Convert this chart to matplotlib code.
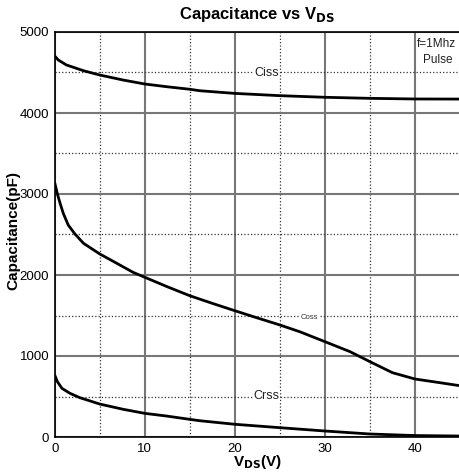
import matplotlib
matplotlib.use('Agg')
import matplotlib.pyplot as plt
from matplotlib.ticker import MultipleLocator

plt.rcParams['font.family'] = ['Liberation Sans', 'DejaVu Sans']

# Datos (pF frente a V)
ciss_v = [0, 0.4, 1.3, 3.2, 5, 7.6, 10, 12.4, 15, 16.1, 20, 25, 30, 35, 40, 45]
ciss = [4704, 4654, 4593, 4522, 4469, 4407, 4358, 4325, 4293, 4275, 4242, 4214, 4194, 4181, 4173, 4172]

coss_v = [0, 0.3, 0.6, 0.95, 1.5, 2.25, 3.2, 5, 6.9, 8.7, 10, 12.5, 15, 17.5, 20, 22.5, 25,
          27.2, 30, 32.8, 35, 37.5, 40, 42.8, 45]
coss = [3140, 3000, 2885, 2762, 2617, 2506, 2391, 2260, 2144, 2033, 1972, 1855, 1744, 1650, 1559,
        1470, 1383, 1300, 1177, 1053, 930, 794, 716, 670, 633]

crss_v = [0, 0.3, 0.8, 1.7, 2.8, 5, 7.6, 10, 12.4, 15, 16.1, 20, 25, 30, 35, 40, 45]
crss = [765, 683, 601, 539, 485, 407, 342, 292, 259, 218, 201, 157, 115, 74, 37, 18, 12]

fig = plt.figure(figsize=(4.59, 4.73), dpi=100)
ax = fig.add_axes([54.7 / 459, 36 / 473, 405.3 / 459, 405 / 473])

for vs, serie in ((ciss_v, ciss), (coss_v, coss), (crss_v, crss)):
    ax.plot(vs, serie, color='black', linewidth=2, zorder=3, solid_capstyle='butt')

ax.set_xlim(0, 45)
ax.set_ylim(0, 5000)
ax.xaxis.set_major_locator(MultipleLocator(10))
ax.xaxis.set_minor_locator(MultipleLocator(5))
ax.yaxis.set_major_locator(MultipleLocator(1000))
ax.yaxis.set_minor_locator(MultipleLocator(500))
ax.grid(which='major', color='#777777', linestyle='-', linewidth=1.5)
ax.grid(which='minor', color='#333333', linestyle=':', linewidth=0.9)
ax.tick_params(which='both', length=0, labelsize=9.5, pad=4)
ax.spines['right'].set_visible(False)
for s in ('left', 'bottom', 'top'):
    ax.spines[s].set_linewidth(1.2)

ax.text(23.5, 4500, 'Ciss', fontsize=9, ha='center', va='center', color='#222222',
        bbox=dict(facecolor='white', edgecolor='none', pad=0.5), zorder=2)
ax.text(28.3, 1470, 'Coss', fontsize=5.5, ha='center', va='center', color='#333333',
        bbox=dict(facecolor='white', edgecolor='none', pad=0.3), zorder=2)
ax.text(23.5, 506, 'Crss', fontsize=9, ha='center', va='center', color='#222222',
        bbox=dict(facecolor='white', edgecolor='none', pad=0.5), zorder=2)
ax.text(40.2, 4850, 'f=1Mhz', fontsize=8.5, ha='left', va='center', color='#222222', zorder=2)
ax.text(42.5, 4655, 'Pulse', fontsize=8.5, ha='center', va='center', color='#222222',
        bbox=dict(facecolor='white', edgecolor='none', pad=0.5), zorder=2)

ax.set_title(r'Capacitance vs V$_{\mathbf{DS}}$', fontsize=12, fontweight='bold', pad=9)
ax.set_xlabel(r'V$_{\mathbf{DS}}$(V)', fontsize=11, fontweight='bold', labelpad=-1)
fig.text(13 / 459, 1 - 231 / 473, 'Capacitance(pF)', rotation=90, fontsize=11,
         fontweight='bold', ha='center', va='center')

fig.savefig('out.png', dpi=100)
